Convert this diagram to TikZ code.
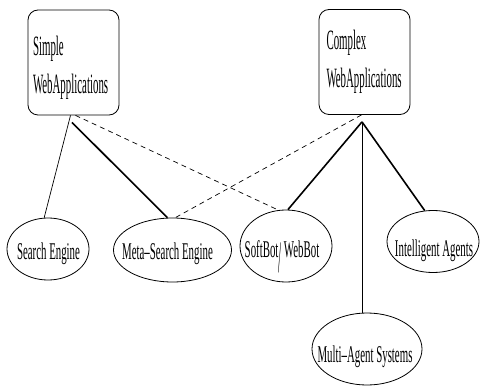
\documentclass[tikz,border=0pt]{standalone}
\usepackage{fontspec}
\usepackage{graphicx}
\newfontfamily\boxfont[FakeStretch=0.388]{Liberation Serif}
\newfontfamily\leaffont[FakeStretch=0.452]{Liberation Serif}
\usetikzlibrary{shapes.geometric}
% #1 = twice the horizontal shift, #2 = baseline below centre, #3 = text
\newcommand\zw[3]{\makebox[0pt]{\kern#1\raisebox{-#2}[0pt][0pt]{#3}}}
\begin{document}
\begin{tikzpicture}[x=1pt,y=-1pt,
  appbox/.style={draw, rounded corners=10pt, line width=0.8pt, align=left,
    inner ysep=0pt, minimum height=105pt,
    font=\fontsize{28}{38}\selectfont\boxfont},
  leaf/.style={draw, ellipse, inner sep=0pt, line width=0.8pt,
    font=\fontsize{24}{30}\selectfont\leaffont},
  thickline/.style={line width=1.6pt},
  thinline/.style={line width=0.7pt},
  dashline/.style={line width=0.7pt, dash pattern=on 5pt off 4pt}]
\useasboundingbox (0,0) rectangle (481,387);
\node[appbox, text width=81pt, inner xsep=5pt] (simple) at (73.5,62.5) {\rule{0pt}{29.1pt}Simple\\WebApplications};
\node[appbox, text width=76pt, inner xsep=7.5pt] (complex) at (364.5,62) {Complex\\WebApplications};
\node[leaf, minimum width=82pt, minimum height=62pt] (se) at (48,249) {\zw{1pt}{10pt}{Search Engine}};
\node[leaf, minimum width=118pt, minimum height=64pt] (mse) at (172.5,250) {\zw{-10pt}{9pt}{Meta–Search Engine}};
\node[leaf, minimum width=92pt, minimum height=72pt] (sb) at (286,246) {\zw{-8pt}{11pt}{SoftBot\kern0.5pt\raisebox{-15.4pt}{\scalebox{1}[1.87]{/}}\kern2pt WebBot}};
\node[leaf, minimum width=92pt, minimum height=62pt] (ia) at (433,241.5) {\zw{2pt}{15pt}{Intelligent Agents}};
\node[leaf, minimum width=110pt, minimum height=72pt] (mas) at (367,349) {\zw{-4pt}{13pt}{Multi–Agent Systems}};
\coordinate (sa) at ([yshift=-7pt,xshift=-1.5pt]simple.south);
\coordinate (ca) at ([yshift=-7pt,xshift=-2.5pt]complex.south);
\draw[thinline] ([xshift=-3pt]simple.south) -- (se.97);
\draw[thickline] (sa) -- (mse.99);
\draw[dashline] ([xshift=2pt]simple.south) -- (sb.102);
\draw[dashline] ([xshift=-3pt]complex.south) -- (mse.85);
\draw[thickline] (ca) -- (sb.87);
\draw[thickline] (ca) -- (ia.105);
\draw[thinline] (ca) -- (ca |- mas.north);
\end{tikzpicture}
\end{document}
